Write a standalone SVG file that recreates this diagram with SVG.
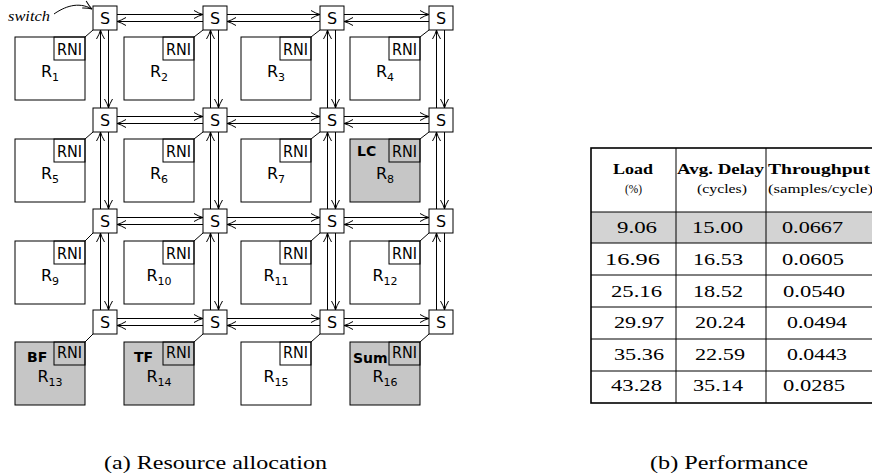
<svg xmlns="http://www.w3.org/2000/svg" width="872" height="475" viewBox="0 0 872 475">
<style>
.bg{fill:#fff}
.sw{fill:#fff;stroke:#000;stroke-width:1}
.res{fill:#fff;stroke:#000;stroke-width:1}
.res.g{fill:#c6c6c6}
.rni{fill:none;stroke:#000;stroke-width:1}
.sans{font-family:"DejaVu Sans","Liberation Sans",sans-serif;fill:#000}
.st{font-size:16px;text-anchor:middle}
.rt{font-size:16px;text-anchor:middle}
.sub{font-size:11px}
.lab{font-size:14px;font-weight:bold}
.ln{stroke:#000;stroke-width:1;fill:none}
.arr{stroke:#000;stroke-width:1;fill:none;marker-end:url(#ah)}
.serif{font-family:"Liberation Serif","Times New Roman",serif;fill:#000}
.hd{font-size:14px;font-weight:bold}
.hs{font-size:12px}
.dt{font-size:17px}
.cap{font-size:19px}
.tb{stroke:#000;stroke-width:1;fill:none}
.tbo{stroke:#000;stroke-width:1.6;fill:none}
</style>
<defs>
<marker id="ah" markerWidth="12" markerHeight="10" refX="0" refY="0" viewBox="-10 -5 12 10" orient="auto" markerUnits="userSpaceOnUse">
<path d="M -9 -4 Q -4 -1 0 0 Q -4 1 -9 4" fill="none" stroke="#000" stroke-width="1"/>
</marker>
</defs>
<rect class="bg" x="0" y="0" width="872" height="475"/>

<g id="connectors">
<!-- horizontal rightward -->
<line class="arr" x1="117" y1="14.5" x2="203" y2="14.5"/>
<line class="arr" x1="227" y1="14.5" x2="320" y2="14.5"/>
<line class="arr" x1="344" y1="14.5" x2="429" y2="14.5"/>
<line class="arr" x1="117" y1="116.5" x2="203" y2="116.5"/>
<line class="arr" x1="227" y1="116.5" x2="320" y2="116.5"/>
<line class="arr" x1="344" y1="116.5" x2="429" y2="116.5"/>
<line class="arr" x1="117" y1="217.5" x2="203" y2="217.5"/>
<line class="arr" x1="227" y1="217.5" x2="320" y2="217.5"/>
<line class="arr" x1="344" y1="217.5" x2="429" y2="217.5"/>
<line class="arr" x1="117" y1="318.5" x2="203" y2="318.5"/>
<line class="arr" x1="227" y1="318.5" x2="320" y2="318.5"/>
<line class="arr" x1="344" y1="318.5" x2="429" y2="318.5"/>
<!-- horizontal leftward -->
<line class="arr" x1="203" y1="21.5" x2="117" y2="21.5"/>
<line class="arr" x1="320" y1="21.5" x2="227" y2="21.5"/>
<line class="arr" x1="429" y1="21.5" x2="344" y2="21.5"/>
<line class="arr" x1="203" y1="123.5" x2="117" y2="123.5"/>
<line class="arr" x1="320" y1="123.5" x2="227" y2="123.5"/>
<line class="arr" x1="429" y1="123.5" x2="344" y2="123.5"/>
<line class="arr" x1="203" y1="224.5" x2="117" y2="224.5"/>
<line class="arr" x1="320" y1="224.5" x2="227" y2="224.5"/>
<line class="arr" x1="429" y1="224.5" x2="344" y2="224.5"/>
<line class="arr" x1="203" y1="325.5" x2="117" y2="325.5"/>
<line class="arr" x1="320" y1="325.5" x2="227" y2="325.5"/>
<line class="arr" x1="429" y1="325.5" x2="344" y2="325.5"/>
<!-- vertical upward -->
<line class="arr" x1="100.5" y1="108" x2="100.5" y2="30"/>
<line class="arr" x1="210.5" y1="108" x2="210.5" y2="30"/>
<line class="arr" x1="327.5" y1="108" x2="327.5" y2="30"/>
<line class="arr" x1="436.5" y1="108" x2="436.5" y2="30"/>
<line class="arr" x1="100.5" y1="209" x2="100.5" y2="132"/>
<line class="arr" x1="210.5" y1="209" x2="210.5" y2="132"/>
<line class="arr" x1="327.5" y1="209" x2="327.5" y2="132"/>
<line class="arr" x1="436.5" y1="209" x2="436.5" y2="132"/>
<line class="arr" x1="100.5" y1="310" x2="100.5" y2="233"/>
<line class="arr" x1="210.5" y1="310" x2="210.5" y2="233"/>
<line class="arr" x1="327.5" y1="310" x2="327.5" y2="233"/>
<line class="arr" x1="436.5" y1="310" x2="436.5" y2="233"/>
<!-- vertical downward -->
<line class="arr" x1="108.5" y1="30" x2="108.5" y2="108"/>
<line class="arr" x1="218.5" y1="30" x2="218.5" y2="108"/>
<line class="arr" x1="335.5" y1="30" x2="335.5" y2="108"/>
<line class="arr" x1="444.5" y1="30" x2="444.5" y2="108"/>
<line class="arr" x1="108.5" y1="132" x2="108.5" y2="209"/>
<line class="arr" x1="218.5" y1="132" x2="218.5" y2="209"/>
<line class="arr" x1="335.5" y1="132" x2="335.5" y2="209"/>
<line class="arr" x1="444.5" y1="132" x2="444.5" y2="209"/>
<line class="arr" x1="108.5" y1="233" x2="108.5" y2="310"/>
<line class="arr" x1="218.5" y1="233" x2="218.5" y2="310"/>
<line class="arr" x1="335.5" y1="233" x2="335.5" y2="310"/>
<line class="arr" x1="444.5" y1="233" x2="444.5" y2="310"/>
<!-- switch to resource links -->
<line class="ln" x1="85" y1="37" x2="93" y2="30"/>
<line class="ln" x1="194" y1="37" x2="203" y2="30"/>
<line class="ln" x1="311" y1="37" x2="320" y2="30"/>
<line class="ln" x1="420" y1="37" x2="429" y2="30"/>
<line class="ln" x1="85" y1="139" x2="93" y2="132"/>
<line class="ln" x1="194" y1="139" x2="203" y2="132"/>
<line class="ln" x1="311" y1="139" x2="320" y2="132"/>
<line class="ln" x1="420" y1="139" x2="429" y2="132"/>
<line class="ln" x1="85" y1="241" x2="93" y2="233"/>
<line class="ln" x1="194" y1="241" x2="203" y2="233"/>
<line class="ln" x1="311" y1="241" x2="320" y2="233"/>
<line class="ln" x1="420" y1="241" x2="429" y2="233"/>
<line class="ln" x1="85" y1="342" x2="93" y2="334"/>
<line class="ln" x1="194" y1="342" x2="203" y2="334"/>
<line class="ln" x1="311" y1="342" x2="320" y2="334"/>
<line class="ln" x1="420" y1="342" x2="429" y2="334"/>
<!-- switch label pointer -->
<path class="arr" d="M 54 14 C 64 7, 78 1, 92 9"/>
</g>

<text class="serif" x="8" y="21" font-size="15" font-style="italic" textLength="42" lengthAdjust="spacingAndGlyphs">switch</text>

<!-- switches -->
<g id="S11"><rect class="sw" x="93" y="6" width="24" height="24"/><text class="sans st" x="105" y="23.5">S</text></g>
<g id="S12"><rect class="sw" x="203" y="6" width="24" height="24"/><text class="sans st" x="215" y="23.5">S</text></g>
<g id="S13"><rect class="sw" x="320" y="6" width="24" height="24"/><text class="sans st" x="332" y="23.5">S</text></g>
<g id="S14"><rect class="sw" x="429" y="6" width="24" height="24"/><text class="sans st" x="441" y="23.5">S</text></g>
<g id="S21"><rect class="sw" x="93" y="108" width="24" height="24"/><text class="sans st" x="105" y="125.5">S</text></g>
<g id="S22"><rect class="sw" x="203" y="108" width="24" height="24"/><text class="sans st" x="215" y="125.5">S</text></g>
<g id="S23"><rect class="sw" x="320" y="108" width="24" height="24"/><text class="sans st" x="332" y="125.5">S</text></g>
<g id="S24"><rect class="sw" x="429" y="108" width="24" height="24"/><text class="sans st" x="441" y="125.5">S</text></g>
<g id="S31"><rect class="sw" x="93" y="209" width="24" height="24"/><text class="sans st" x="105" y="226.5">S</text></g>
<g id="S32"><rect class="sw" x="203" y="209" width="24" height="24"/><text class="sans st" x="215" y="226.5">S</text></g>
<g id="S33"><rect class="sw" x="320" y="209" width="24" height="24"/><text class="sans st" x="332" y="226.5">S</text></g>
<g id="S34"><rect class="sw" x="429" y="209" width="24" height="24"/><text class="sans st" x="441" y="226.5">S</text></g>
<g id="S41"><rect class="sw" x="93" y="310" width="24" height="24"/><text class="sans st" x="105" y="327.5">S</text></g>
<g id="S42"><rect class="sw" x="203" y="310" width="24" height="24"/><text class="sans st" x="215" y="327.5">S</text></g>
<g id="S43"><rect class="sw" x="320" y="310" width="24" height="24"/><text class="sans st" x="332" y="327.5">S</text></g>
<g id="S44"><rect class="sw" x="429" y="310" width="24" height="24"/><text class="sans st" x="441" y="327.5">S</text></g>

<!-- resources -->
<g id="R1"><rect class="res" x="15" y="37" width="70" height="63"/><rect class="rni" x="54" y="37" width="31" height="23"/><text class="sans" x="57" y="55" font-size="16" textLength="25" lengthAdjust="spacingAndGlyphs">RNI</text><text class="sans rt" x="50" y="77">R<tspan class="sub" dy="4">1</tspan></text></g>
<g id="R2"><rect class="res" x="124" y="37" width="70" height="63"/><rect class="rni" x="163" y="37" width="31" height="23"/><text class="sans" x="166" y="55" font-size="16" textLength="25" lengthAdjust="spacingAndGlyphs">RNI</text><text class="sans rt" x="159" y="77">R<tspan class="sub" dy="4">2</tspan></text></g>
<g id="R3"><rect class="res" x="241" y="37" width="70" height="63"/><rect class="rni" x="280" y="37" width="31" height="23"/><text class="sans" x="283" y="55" font-size="16" textLength="25" lengthAdjust="spacingAndGlyphs">RNI</text><text class="sans rt" x="276" y="77">R<tspan class="sub" dy="4">3</tspan></text></g>
<g id="R4"><rect class="res" x="350" y="37" width="70" height="63"/><rect class="rni" x="389" y="37" width="31" height="23"/><text class="sans" x="392" y="55" font-size="16" textLength="25" lengthAdjust="spacingAndGlyphs">RNI</text><text class="sans rt" x="385" y="77">R<tspan class="sub" dy="4">4</tspan></text></g>

<g id="R5"><rect class="res" x="15" y="139" width="70" height="63"/><rect class="rni" x="54" y="139" width="31" height="23"/><text class="sans" x="57" y="157" font-size="16" textLength="25" lengthAdjust="spacingAndGlyphs">RNI</text><text class="sans rt" x="50" y="179">R<tspan class="sub" dy="4">5</tspan></text></g>
<g id="R6"><rect class="res" x="124" y="139" width="70" height="63"/><rect class="rni" x="163" y="139" width="31" height="23"/><text class="sans" x="166" y="157" font-size="16" textLength="25" lengthAdjust="spacingAndGlyphs">RNI</text><text class="sans rt" x="159" y="179">R<tspan class="sub" dy="4">6</tspan></text></g>
<g id="R7"><rect class="res" x="241" y="139" width="70" height="63"/><rect class="rni" x="280" y="139" width="31" height="23"/><text class="sans" x="283" y="157" font-size="16" textLength="25" lengthAdjust="spacingAndGlyphs">RNI</text><text class="sans rt" x="276" y="179">R<tspan class="sub" dy="4">7</tspan></text></g>
<g id="R8"><rect class="res g" x="350" y="139" width="70" height="63"/><rect class="rni" x="389" y="139" width="31" height="23"/><text class="sans" x="392" y="157" font-size="16" textLength="25" lengthAdjust="spacingAndGlyphs">RNI</text><text class="sans lab" x="357" y="156">LC</text><text class="sans rt" x="385" y="179">R<tspan class="sub" dy="4">8</tspan></text></g>

<g id="R9"><rect class="res" x="15" y="241" width="70" height="63"/><rect class="rni" x="54" y="241" width="31" height="23"/><text class="sans" x="57" y="259" font-size="16" textLength="25" lengthAdjust="spacingAndGlyphs">RNI</text><text class="sans rt" x="50" y="281">R<tspan class="sub" dy="4">9</tspan></text></g>
<g id="R10"><rect class="res" x="124" y="241" width="70" height="63"/><rect class="rni" x="163" y="241" width="31" height="23"/><text class="sans" x="166" y="259" font-size="16" textLength="25" lengthAdjust="spacingAndGlyphs">RNI</text><text class="sans rt" x="159" y="281">R<tspan class="sub" dy="4">10</tspan></text></g>
<g id="R11"><rect class="res" x="241" y="241" width="70" height="63"/><rect class="rni" x="280" y="241" width="31" height="23"/><text class="sans" x="283" y="259" font-size="16" textLength="25" lengthAdjust="spacingAndGlyphs">RNI</text><text class="sans rt" x="276" y="281">R<tspan class="sub" dy="4">11</tspan></text></g>
<g id="R12"><rect class="res" x="350" y="241" width="70" height="63"/><rect class="rni" x="389" y="241" width="31" height="23"/><text class="sans" x="392" y="259" font-size="16" textLength="25" lengthAdjust="spacingAndGlyphs">RNI</text><text class="sans rt" x="385" y="281">R<tspan class="sub" dy="4">12</tspan></text></g>

<g id="R13"><rect class="res g" x="15" y="342" width="70" height="63"/><rect class="rni" x="54" y="342" width="31" height="23"/><text class="sans" x="57" y="358" font-size="16" textLength="25" lengthAdjust="spacingAndGlyphs">RNI</text><text class="sans lab" x="27" y="362">BF</text><text class="sans rt" x="50" y="382">R<tspan class="sub" dy="4">13</tspan></text></g>
<g id="R14"><rect class="res g" x="124" y="342" width="70" height="63"/><rect class="rni" x="163" y="342" width="31" height="23"/><text class="sans" x="166" y="358" font-size="16" textLength="25" lengthAdjust="spacingAndGlyphs">RNI</text><text class="sans lab" x="134" y="362">TF</text><text class="sans rt" x="159" y="382">R<tspan class="sub" dy="4">14</tspan></text></g>
<g id="R15"><rect class="res" x="241" y="342" width="70" height="63"/><rect class="rni" x="280" y="342" width="31" height="23"/><text class="sans" x="283" y="358" font-size="16" textLength="25" lengthAdjust="spacingAndGlyphs">RNI</text><text class="sans rt" x="276" y="382">R<tspan class="sub" dy="4">15</tspan></text></g>
<g id="R16"><rect class="res g" x="350" y="342" width="70" height="63"/><rect class="rni" x="389" y="342" width="31" height="23"/><text class="sans" x="392" y="358" font-size="16" textLength="25" lengthAdjust="spacingAndGlyphs">RNI</text><text class="sans lab" x="353" y="363">Sum</text><text class="sans rt" x="385" y="382">R<tspan class="sub" dy="4">16</tspan></text></g>

<!-- table -->
<g id="table">
<rect x="591" y="212" width="283" height="31" fill="#d3d3d3"/>
<line class="tb" x1="591" y1="212" x2="874" y2="212"/>
<line class="tb" x1="591" y1="243" x2="874" y2="243"/>
<line class="tb" x1="591" y1="275" x2="874" y2="275"/>
<line class="tb" x1="591" y1="307" x2="874" y2="307"/>
<line class="tb" x1="591" y1="339" x2="874" y2="339"/>
<line class="tb" x1="591" y1="371" x2="874" y2="371"/>
<line class="tb" x1="676" y1="148" x2="676" y2="403"/>
<line class="tb" x1="766" y1="148" x2="766" y2="403"/>
<rect class="tbo" x="591" y="148" width="283" height="255"/>
<text class="serif hd" x="613" y="174" textLength="40" lengthAdjust="spacingAndGlyphs">Load</text>
<text class="serif hs" x="625" y="193" textLength="17" lengthAdjust="spacingAndGlyphs">(%)</text>
<text class="serif hd" x="677" y="174" textLength="87" lengthAdjust="spacingAndGlyphs">Avg. Delay</text>
<text class="serif hs" x="697" y="193" textLength="50" lengthAdjust="spacingAndGlyphs">(cycles)</text>
<text class="serif hd" x="768" y="174" textLength="102" lengthAdjust="spacingAndGlyphs">Throughput</text>
<text class="serif hs" x="768" y="193" textLength="105" lengthAdjust="spacingAndGlyphs">(samples/cycle)</text>

<text class="serif dt" x="617" y="233" textLength="40" lengthAdjust="spacingAndGlyphs">9.06</text>
<text class="serif dt" x="692" y="233" textLength="51" lengthAdjust="spacingAndGlyphs">15.00</text>
<text class="serif dt" x="782" y="233" textLength="61" lengthAdjust="spacingAndGlyphs">0.0667</text>

<text class="serif dt" x="605" y="265" textLength="55" lengthAdjust="spacingAndGlyphs">16.96</text>
<text class="serif dt" x="693" y="265" textLength="50" lengthAdjust="spacingAndGlyphs">16.53</text>
<text class="serif dt" x="782" y="265" textLength="62" lengthAdjust="spacingAndGlyphs">0.0605</text>

<text class="serif dt" x="611" y="297" textLength="51" lengthAdjust="spacingAndGlyphs">25.16</text>
<text class="serif dt" x="693" y="297" textLength="50" lengthAdjust="spacingAndGlyphs">18.52</text>
<text class="serif dt" x="783" y="297" textLength="62" lengthAdjust="spacingAndGlyphs">0.0540</text>

<text class="serif dt" x="614" y="328" textLength="50" lengthAdjust="spacingAndGlyphs">29.97</text>
<text class="serif dt" x="695" y="328" textLength="50" lengthAdjust="spacingAndGlyphs">20.24</text>
<text class="serif dt" x="787" y="328" textLength="60" lengthAdjust="spacingAndGlyphs">0.0494</text>

<text class="serif dt" x="614" y="360" textLength="50" lengthAdjust="spacingAndGlyphs">35.36</text>
<text class="serif dt" x="695" y="360" textLength="50" lengthAdjust="spacingAndGlyphs">22.59</text>
<text class="serif dt" x="787" y="360" textLength="60" lengthAdjust="spacingAndGlyphs">0.0443</text>

<text class="serif dt" x="611" y="391" textLength="51" lengthAdjust="spacingAndGlyphs">43.28</text>
<text class="serif dt" x="693" y="391" textLength="50" lengthAdjust="spacingAndGlyphs">35.14</text>
<text class="serif dt" x="783" y="391" textLength="62" lengthAdjust="spacingAndGlyphs">0.0285</text>
</g>

<text class="serif cap" x="104" y="469" textLength="223" lengthAdjust="spacingAndGlyphs">(a) Resource allocation</text>
<text class="serif cap" x="650" y="469" textLength="158" lengthAdjust="spacingAndGlyphs">(b) Performance</text>
</svg>
